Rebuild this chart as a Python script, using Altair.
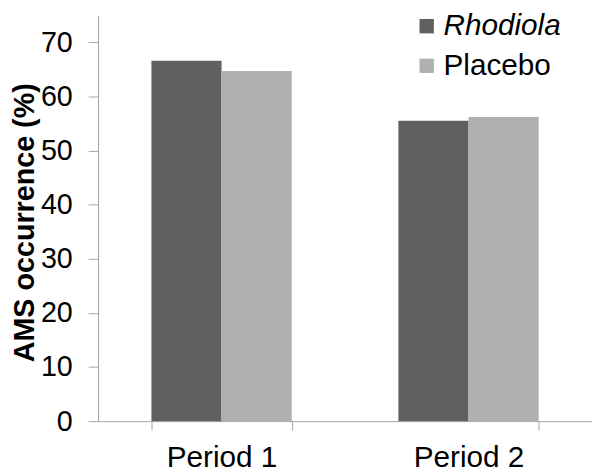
import altair as alt
import pandas as pd

periods = ["Period 1", "Period 1", "Period 2", "Period 2"]
groups = ["Rhodiola", "Placebo", "Rhodiola", "Placebo"]
values = [66.6, 64.7, 55.5, 56.2]
group_order = ["Rhodiola", "Placebo"]
group_colors = ["#606060", "#b0b0b0"]
y_ticks = [0, 10, 20, 30, 40, 50, 60, 70]

df = pd.DataFrame({"period": periods, "group": groups, "value": values})

FONT = "Liberation Sans"
AXIS_GRAY = "#a6a6a6"

chart = alt.Chart(df).mark_bar().encode(
    x=alt.X(
        "period:N",
        title=None,
        scale=alt.Scale(paddingInner=0.432, paddingOuter=0.216),
        axis=alt.Axis(
            labelAngle=0,
            labelFont=FONT,
            labelFontSize=30,
            labelColor="black",
            labelPadding=13,
            labelBaseline="top",
            tickBand="extent",
            tickSize=9,
            tickColor=AXIS_GRAY,
            domainColor=AXIS_GRAY,
            grid=False,
        ),
    ),
    xOffset=alt.XOffset("group:N", sort=group_order, scale=alt.Scale(paddingInner=0)),
    y=alt.Y(
        "value:Q",
        title="AMS occurrence (%)",
        scale=alt.Scale(domain=[0, 75], nice=False),
        axis=alt.Axis(
            values=y_ticks,
            labelFont=FONT,
            labelFontSize=29,
            labelColor="black",
            labelPadding=16,
            tickSize=10,
            tickColor=AXIS_GRAY,
            domainColor=AXIS_GRAY,
            grid=False,
            titleFont=FONT,
            titleFontSize=29,
            titleFontWeight="bold",
            titleColor="black",
            titleAngle=-90,
            titleAlign="left",
            titleBaseline="alphabetic",
            titleX=-65,
            titleY=350,
        ),
    ),
    color=alt.Color(
        "group:N",
        sort=group_order,
        scale=alt.Scale(domain=group_order, range=group_colors),
        legend=alt.Legend(
            title=None,
            orient="none",
            legendX=317,
            legendY=-4,
            symbolType="square",
            symbolSize=210,
            symbolStrokeWidth=0,
            labelFont=FONT,
            labelFontSize=30,
            labelColor="black",
            labelOffset=2,
            rowPadding=10,
            labelFontStyle=alt.ExprRef("datum.label == 'Rhodiola' ? 'italic' : 'normal'"),
        ),
    ),
).properties(
    width=499,
    height=410,
    autosize=alt.AutoSizeParams(type="none"),
    padding={"left": 91, "top": 5, "right": 0, "bottom": 49},
).configure_view(stroke=None)

chart.save("out.html", embed_options={"renderer": "svg", "actions": False})
